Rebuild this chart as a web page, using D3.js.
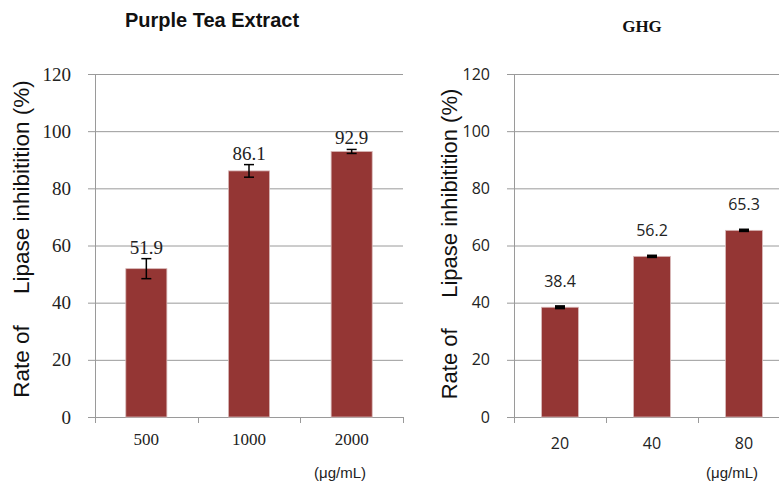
<!DOCTYPE html>
<html>
<head>
<meta charset="utf-8">
<script src="https://cdn.jsdelivr.net/npm/d3@7"></script>
<style>
  body { margin: 0; background: white; }
</style>
</head>
<body>
<div id="container"></div>
<script>
// values
var pteDoses = ['500', '1000', '2000'],
    pteValues = [51.9, 86.1, 92.9],
    pteErrors = [3.5, 2.2, 0.7];

var ghgDoses = ['20', '40', '80'],
    ghgValues = [38.4, 56.2, 65.3],
    ghgErrors = [0.3, 0.2, 0.2];

var yTicks = [0, 20, 40, 60, 80, 100, 120];

var svgWidth = 779,
    svgHeight = 482,
    svg = d3.select('#container').append('svg').attr('width', svgWidth).attr('height', svgHeight).style('background-color', 'white');

var barColor = '#943634',
    gridColor = '#9a9a9a';

function panel(opt) {
  var g = svg.append('g');
  var x = d3.scaleBand().domain(opt.doses).range([opt.x0, opt.x1]).paddingInner(0.6).paddingOuter(0.3);
  var y = d3.scaleLinear().domain([0, 120]).range([417, 74]);
  var data = opt.doses.map(function(d, i) { return { dose: d, v: opt.values[i], e: opt.errors[i] }; });

  // gridlines + left tick marks
  g.selectAll('.grid').data(yTicks).enter().append('line')
    .attr('x1', opt.x0 - 7).attr('x2', opt.x1)
    .attr('y1', function(d) { return y(d) + 0.5; }).attr('y2', function(d) { return y(d) + 0.5; })
    .attr('stroke', gridColor).attr('stroke-width', 1);

  // y axis line
  g.append('line').attr('x1', opt.x0 + 0.5).attr('x2', opt.x0 + 0.5).attr('y1', y(120)).attr('y2', y(0))
    .attr('stroke', gridColor);

  // x tick marks at category edges
  var step = (opt.x1 - opt.x0) / opt.doses.length;
  var tickXs = d3.range(opt.doses.length + 1).map(function(i) { return opt.x0 + i * step; });
  g.selectAll('.xt').data(tickXs).enter().append('line')
    .attr('x1', function(d) { return Math.round(d) + 0.5; }).attr('x2', function(d) { return Math.round(d) + 0.5; })
    .attr('y1', y(0)).attr('y2', y(0) + 6)
    .attr('stroke', gridColor);

  // y tick labels
  g.selectAll('.yl').data(yTicks).enter().append('text')
    .attr('x', opt.labelX).attr('y', function(d) { return y(d); })
    .attr('dy', '0.35em')
    .attr('text-anchor', 'end')
    .style('font-family', opt.font).style('font-size', opt.tickSize + 'px').style('fill', '#222')
    .text(function(d) { return d; });

  // bars
  g.selectAll('.bar').data(data).enter().append('rect')
    .attr('x', function(d) { return x(d.dose); })
    .attr('width', x.bandwidth())
    .attr('y', function(d) { return y(d.v); })
    .attr('height', function(d) { return y(0) - y(d.v); })
    .attr('fill', barColor)
    .attr('stroke', '#d8b8b8').attr('stroke-width', 0.8);

  // error bars
  var eb = g.selectAll('.err').data(data).enter().append('g')
    .attr('transform', function(d) { return 'translate(' + (x(d.dose) + x.bandwidth() / 2) + ',0)'; });
  eb.append('line')
    .attr('y1', function(d) { return y(d.v + d.e); }).attr('y2', function(d) { return y(d.v - d.e); })
    .attr('stroke', '#000').attr('stroke-width', 1.5);
  eb.append('line').attr('x1', -5).attr('x2', 5)
    .attr('y1', function(d) { return y(d.v + d.e); }).attr('y2', function(d) { return y(d.v + d.e); })
    .attr('stroke', '#000').attr('stroke-width', opt.capWidth);
  eb.append('line').attr('x1', -5).attr('x2', 5)
    .attr('y1', function(d) { return y(d.v - d.e); }).attr('y2', function(d) { return y(d.v - d.e); })
    .attr('stroke', '#000').attr('stroke-width', opt.capWidth);

  // value labels
  g.selectAll('.vl').data(data).enter().append('text')
    .attr('x', function(d) { return x(d.dose) + x.bandwidth() / 2; })
    .attr('y', function(d) { return opt.valueY(y, d); })
    .attr('text-anchor', 'middle')
    .style('font-family', opt.font).style('font-size', opt.valueSize + 'px').style('fill', '#222')
    .text(function(d) { return d.v.toFixed(1); });

  // x labels
  g.selectAll('.xl').data(opt.doses).enter().append('text')
    .attr('x', function(d) { return x(d) + x.bandwidth() / 2; })
    .attr('y', opt.xLabelY)
    .attr('text-anchor', 'middle')
    .style('font-family', opt.font).style('font-size', opt.xSize + 'px').style('fill', '#222')
    .text(function(d) { return d; });

  // unit
  g.append('text')
    .attr('x', opt.unitX).attr('y', 478)
    .attr('text-anchor', 'middle')
    .style('font-family', 'Liberation Sans, Arial, sans-serif').style('font-size', '15px').style('fill', '#222')
    .text('(μg/mL)');

  // y title
  g.append('text')
    .attr('transform', 'translate(' + opt.titleX + ',' + opt.titleCY + ') rotate(-90)')
    .attr('text-anchor', 'middle')
    .attr('dy', '0.35em')
    .attr('xml:space', 'preserve')
    .style('font-family', 'Liberation Sans, Arial, sans-serif').style('font-size', opt.yTitleSize + 'px').style('fill', '#111')
    .style('white-space', 'pre')
    .text(opt.yTitle);

  // title
  g.append('text')
    .attr('x', opt.headX).attr('y', opt.headY)
    .attr('text-anchor', 'middle')
    .style('font-family', opt.headFont).style('font-size', opt.headSize + 'px').style('font-weight', 'bold').style('fill', '#111')
    .text(opt.title);
}

panel({
  doses: pteDoses, values: pteValues, errors: pteErrors,
  x0: 95, x1: 403, labelX: 71,
  font: 'Liberation Serif, Times New Roman, serif',
  tickSize: 19, valueSize: 19, xSize: 17, xLabelY: 445,
  capWidth: 1.5,
  valueY: function(y, d) { return y(d.v + d.e) - 5; },
  unitX: 340, titleX: 21, titleCY: 239, yTitleSize: 22.5,
  yTitle: 'Rate of     Lipase inhibitition (%)',
  title: 'Purple Tea Extract', headX: 212, headY: 27, headSize: 20,
  headFont: 'Liberation Sans, Arial, sans-serif'
});

panel({
  doses: ghgDoses, values: ghgValues, errors: ghgErrors,
  x0: 514, x1: 790, labelX: 490,
  font: 'Open Sans, Liberation Sans, sans-serif',
  tickSize: 16, valueSize: 16, xSize: 16, xLabelY: 449,
  capWidth: 2.5,
  valueY: function(y, d) { return y(d.v) - 20; },
  unitX: 732, titleX: 449, titleCY: 244, yTitleSize: 22,
  yTitle: 'Rate of     Lipase inhibitition (%)',
  title: 'GHG', headX: 642, headY: 32, headSize: 17,
  headFont: 'Liberation Serif, Times New Roman, serif'
});
</script>
</body>
</html>
